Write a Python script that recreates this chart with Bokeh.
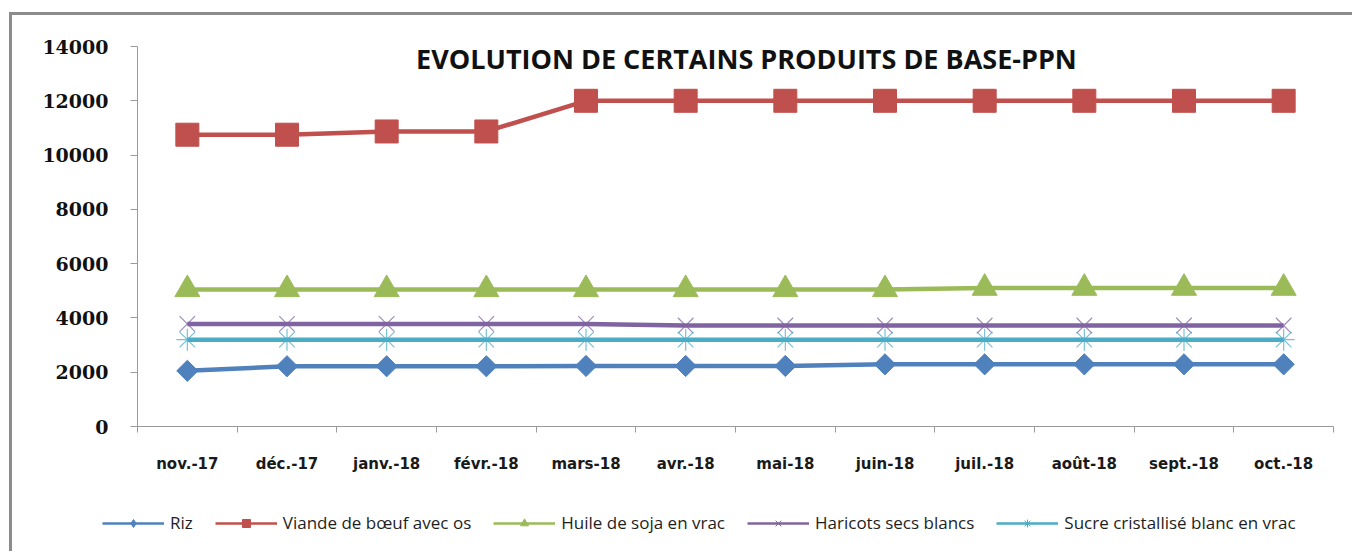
from bokeh.plotting import figure
from bokeh.layouts import column
from bokeh.models import (Range1d, FactorRange, LinearAxis, FixedTicker, Legend,
                          LegendItem, Label)
from bokeh.embed import file_html
from bokeh.resources import INLINE

months = ["nov.-17", "déc.-17", "janv.-18", "févr.-18", "mars-18", "avr.-18",
          "mai-18", "juin-18", "juil.-18", "août-18", "sept.-18", "oct.-18"]

riz = [2050, 2220, 2220, 2220, 2230, 2230, 2230, 2290, 2290, 2290, 2290, 2290]
viande = [10750, 10750, 10870, 10870, 12000, 12000, 12000, 12000, 12000, 12000, 12000, 12000]
huile = [5050, 5050, 5050, 5050, 5050, 5050, 5050, 5050, 5100, 5100, 5100, 5100]
haricots = [3780, 3780, 3780, 3780, 3780, 3720, 3720, 3720, 3720, 3720, 3720, 3720]
sucre = [3200, 3200, 3200, 3200, 3200, 3200, 3200, 3200, 3200, 3200, 3200, 3200]

y_ticks = [0, 2000, 4000, 6000, 8000, 10000, 12000, 14000]
title_text = "EVOLUTION DE CERTAINS PRODUITS DE BASE-PPN"

series = [
    ("Riz", riz, "#4F81BD", "square", 15, 0.785398, "diamond"),
    ("Viande de bœuf avec os", viande, "#C0504D", "square", 23, 0.0, "square"),
    ("Huile de soja en vrac", huile, "#9BBB59", "triangle", 25, 0.0, "triangle"),
    ("Haricots secs blancs", haricots, "#8064A2", "x", 22, 0.0, "x"),
    ("Sucre cristallisé blanc en vrac", sucre, "#4BACC6", "asterisk", 22, 0.0, "asterisk"),
]

n = len(months)
p = figure(width=1340, height=471,
           x_range=FactorRange(factors=months, range_padding=0, factor_padding=0),
           y_range=Range1d(0, 14000),
           output_backend="svg", toolbar_location=None, x_axis_location=None,
           min_border_left=125, min_border_right=19, min_border_top=31,
           min_border_bottom=60)
p.frame_align = False
p.outline_line_color = None
p.xgrid.visible = False
p.ygrid.visible = False
p.background_fill_color = "white"
p.border_fill_color = "white"

# boundary ticks between months, labels at month centres (FactorRange coords 0..n)
xaxis = LinearAxis(ticker=FixedTicker(ticks=[i + 0.5 for i in range(n)],
                                      minor_ticks=list(range(n + 1))),
                   major_label_overrides={i + 0.5: m for i, m in enumerate(months)})
xaxis.axis_line_color = "#9a9a9a"
xaxis.major_tick_line_color = None
xaxis.major_tick_out = 6
xaxis.minor_tick_line_color = "#9a9a9a"
xaxis.minor_tick_in = 0
xaxis.minor_tick_out = 6
xaxis.major_label_standoff = 22
xaxis.major_label_text_font = "DejaVu Sans"
xaxis.major_label_text_font_style = "bold"
xaxis.major_label_text_font_size = "15px"
xaxis.major_label_text_color = "#1a1a1a"
p.add_layout(xaxis, "below")

yax = p.yaxis[0]
yax.ticker = FixedTicker(ticks=y_ticks, minor_ticks=[])
yax.axis_line_color = "#9a9a9a"
yax.major_tick_line_color = "#9a9a9a"
yax.major_tick_in = 0
yax.major_tick_out = 7
yax.minor_tick_line_color = None
yax.major_label_standoff = 22
yax.major_label_text_font = "DejaVu Serif"
yax.major_label_text_font_style = "bold"
yax.major_label_text_font_size = "19px"
yax.major_label_text_color = "#111111"

# legend lives in its own strip below the chart; its series copies fall outside its view
lg = figure(width=1340, height=65,
            x_range=FactorRange(factors=months, range_padding=0, factor_padding=0),
            y_range=Range1d(0, 1),
            output_backend="svg", toolbar_location=None,
            x_axis_location=None, y_axis_location=None,
            min_border_left=0, min_border_right=0, min_border_top=0,
            min_border_bottom=0)
lg.frame_align = False
lg.outline_line_color = None
lg.xgrid.visible = False
lg.ygrid.visible = False
lg.border_fill_color = "white"

items = []
for name, vals, color, marker, size, angle, lmarker in series:
    p.line(x=months, y=vals, line_color=color, line_width=4.5)
    if marker in ("x", "asterisk"):
        p.scatter(x=months, y=vals, marker=marker, size=size, line_color=color,
                  line_width=1.2, line_alpha=0.75)
    else:
        p.scatter(x=months, y=vals, marker=marker, size=size, angle=angle,
                  fill_color=color, line_color=color, line_width=1)
    lr = lg.line(x=months, y=vals, line_color=color, line_width=2.5)
    if lmarker in ("x", "asterisk"):
        sr = lg.scatter(x=months, y=vals, marker=lmarker, size=9,
                        line_color=color, line_width=1)
    else:
        sr = lg.scatter(x=months, y=vals, marker=lmarker, size=9,
                        fill_color=color, line_color=color)
    items.append(LegendItem(label=name, renderers=[lr, sr], index=0))

legend = Legend(items=items, orientation="horizontal", location=(90, 17),
                padding=0, margin=0, spacing=22, glyph_width=62, glyph_height=20,
                label_standoff=6, border_line_color=None, background_fill_alpha=0,
                label_text_font="Open Sans", label_text_font_size="17px",
                label_text_color="#1e1e1e")
lg.add_layout(legend, "center")

title = Label(x=6.11, y=13560, text=title_text,
              text_align="center", text_baseline="middle",
              text_font="Open Sans", text_font_style="bold",
              text_font_size="27px", text_color="#111111")
p.add_layout(title)

lay = column(p, lg, spacing=0)
lay.styles = {"margin-left": "9px", "margin-top": "12px",
              "border-left": "3px solid #8c8c8c", "border-top": "3px solid #8c8c8c"}

open("out.html", "w").write(file_html(lay, INLINE))
